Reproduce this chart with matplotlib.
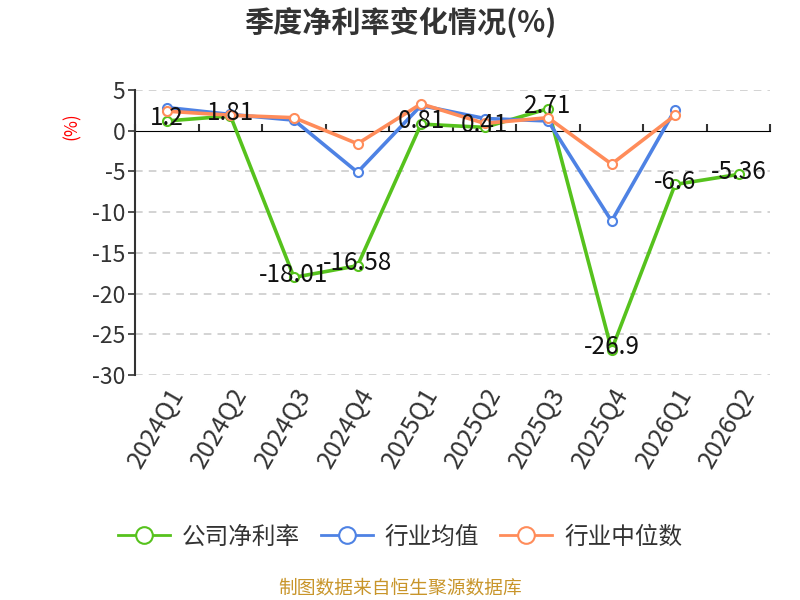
import matplotlib
matplotlib.use("Agg")
import matplotlib.pyplot as plt
import numpy as np

plt.rcParams['font.family'] = ['Noto Sans CJK SC', 'DejaVu Sans']

categories = ['2024Q1', '2024Q2', '2024Q3', '2024Q4', '2025Q1', '2025Q2',
              '2025Q3', '2025Q4', '2026Q1', '2026Q2']
company = [1.2, 1.81, -18.01, -16.58, 0.81, 0.41, 2.71, -26.9, -6.6, -5.36]
industry_avg = [2.85, 2.0, 1.3, -5.1, 3.1, 1.5, 1.2, -11.1, 2.6, None]
industry_median = [2.4, 1.9, 1.6, -1.6, 3.3, 0.9, 1.6, -4.1, 1.9, None]
series_names = ['公司净利率', '行业均值', '行业中位数']
colors = ['#56c21d', '#4e82e4', '#ff8c5a']
yticks = [5, 0, -5, -10, -15, -20, -25, -30]

fig = plt.figure(figsize=(8, 6), dpi=100)
ax = fig.add_axes([0.169, 0.375, 0.794, 0.475])

x = np.arange(len(categories))

def arr(v):
    return np.array([np.nan if a is None else a for a in v], dtype=float)

series = [company, industry_avg, industry_median]
zs = [3, 4, 5]
handles = []
for vals, c, name, z in zip(series, colors, series_names, zs):
    h, = ax.plot(x, arr(vals), color=c, lw=2.6, marker='o', markersize=6.5,
                 markerfacecolor='white', markeredgecolor=c, markeredgewidth=1.5,
                 label=name, zorder=z)
    handles.append(h)

for xi, v in zip(x, company):
    ax.annotate(f'{v:g}', (xi, v), xytext=(0, 2), textcoords='offset points',
                ha='center', va='center', fontsize=17.5, color='#111111', zorder=10)

ax.set_xlim(-0.5, len(categories) - 0.5)
ax.set_ylim(-30, 5)
ax.set_yticks(yticks)
ax.set_yticklabels([str(t) for t in yticks], fontsize=16.5, color='#333333')
for t in yticks:
    if t != 0:
        ax.axhline(t, color='#c8c8c8', lw=1.1, ls=(0, (5, 4)), zorder=1)

ax.set_xticks(x)
ax.set_xticklabels(categories, rotation=60, ha='right', rotation_mode='anchor',
                   fontsize=18, color='#333333')
ax.tick_params(axis='x', length=0, pad=6)
ax.tick_params(axis='y', length=5, width=1.2, color='#333333', pad=2)

for s in ['top', 'right', 'bottom']:
    ax.spines[s].set_visible(False)
ax.spines['left'].set_color('#333333')
ax.spines['left'].set_linewidth(1.5)

# zero axis line with category boundary ticks
sec = ax.secondary_xaxis(30 / 35)
sec.set_xticks(np.arange(len(categories) + 1) - 0.5)
sec.set_xticklabels([])
sec.tick_params(axis='x', direction='out', length=5, width=1.5, color='#333333')
sec.spines['bottom'].set_color('#333333')
sec.spines['bottom'].set_linewidth(1.5)

fig.text(0.09, 0.79, '(%)', rotation=90, color='red', fontsize=12.5,
         ha='center', va='center')

fig.suptitle('季度净利率变化情况(%)', x=0.5, y=0.963, fontsize=21,
             fontweight='bold', color='#333333', va='center')

leg = fig.legend(handles=handles, loc='center', bbox_to_anchor=(0.5, 0.105),
                 ncol=3, frameon=False, fontsize=17, handlelength=2.2,
                 columnspacing=0.9, handletextpad=0.5, labelcolor='#333333')
for lh in leg.legend_handles:
    lh.set_linewidth(2)
    lh.set_markersize(12)

fig.text(0.5, 0.02, '制图数据来自恒生聚源数据库', ha='center', va='center',
         fontsize=13.5, color='#c8952a')

fig.savefig('out.png', dpi=100)
